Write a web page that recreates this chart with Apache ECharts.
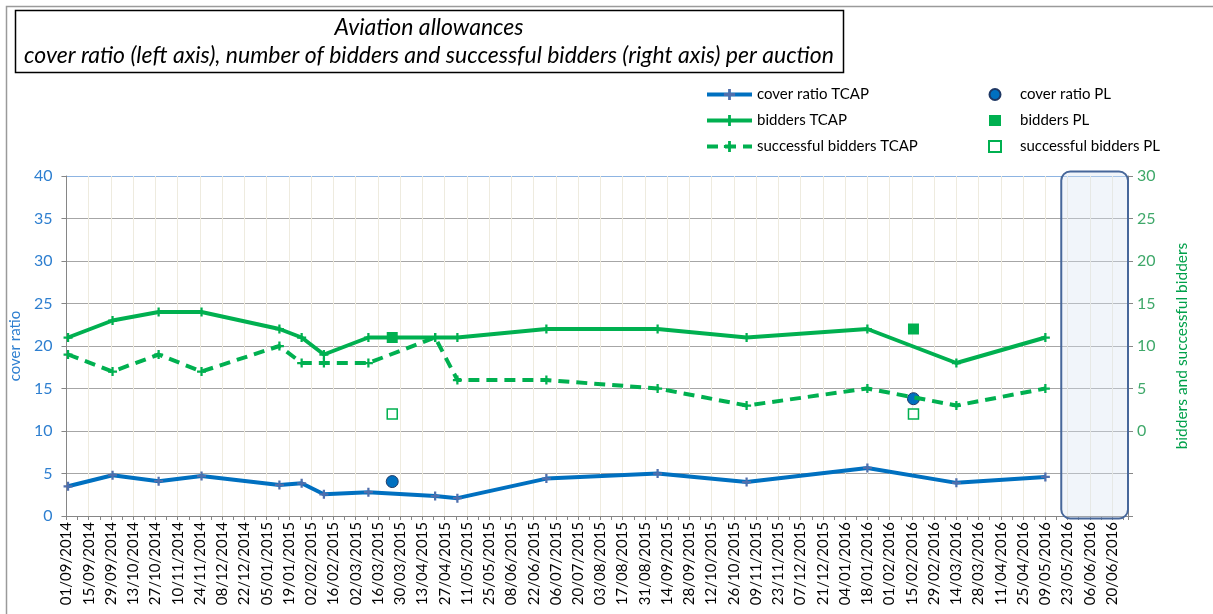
<!DOCTYPE html>
<html>
<head>
<meta charset="utf-8">
<title>Aviation allowances</title>
<script src="https://cdn.jsdelivr.net/npm/echarts@6/dist/echarts.min.js"></script>
<style>
  html, body { margin: 0; padding: 0; background: #fff; }
  #chart { width: 1213px; height: 614px; }
</style>
</head>
<body>
<div id="chart"></div>
<script>
// axis range (dates, dd/mm/yyyy)
const axisStart = '01/09/2014'
const axisEnd = '30/06/2016'
const futureStart = '19/05/2016' // shaded "future auctions" box

// TCAP auctions
const tcapDates = ['02/09/2014', '30/09/2014', '29/10/2014', '25/11/2014', '13/01/2015', '27/01/2015',
  '10/02/2015', '10/03/2015', '21/04/2015', '05/05/2015', '30/06/2015', '08/09/2015',
  '03/11/2015', '18/01/2016', '14/03/2016', '09/05/2016']
const coverTCAP = [3.5, 4.8, 4.1, 4.7, 3.65, 3.85, 2.55, 2.8, 2.35, 2.1, 4.4, 5.0, 4.0, 5.65, 3.9, 4.6]
const biddersTCAP = [11, 13, 14, 14, 12, 11, 9, 11, 11, 11, 12, 12, 11, 12, 8, 11]
const successTCAP = [9, 7, 9, 7, 10, 8, 8, 8, 11, 6, 6, 5, 3, 5, 3, 5]

// PL auctions
const plDates = ['25/03/2015', '16/02/2016']
const coverPL = [4.05, 13.8]
const biddersPL = [11, 12]
const successPL = [2, 2]

const FONT = 'Lato'
const BLUE = '#0070c0'
const GREEN = '#00b050'

function utc(s) {
  const [d, m, y] = s.split('/').map(Number)
  return Date.UTC(y, m - 1, d)
}
const base = utc(axisStart)
function toDay(s) {
  return Math.round((utc(s) - base) / 86400000)
}
function pad(n) { return n < 10 ? '0' + n : '' + n }
function dayLabel(v) {
  const t = new Date(base + v * 86400000)
  return pad(t.getUTCDate()) + '/' + pad(t.getUTCMonth() + 1) + '/' + t.getUTCFullYear()
}
function pairs(dates, vals) {
  return dates.map((d, i) => [toDay(d), vals[i]])
}

const plus = 'path://M3,0H5V3H8V5H5V8H3V5H0V3H3Z'

const chart = echarts.init(document.getElementById('chart'))

const leftSplitColors = ['#a6a6a6', '#a6a6a6', '#a6a6a6', '#a6a6a6', '#a6a6a6',
  '#a6a6a6', '#a6a6a6', '#a6a6a6', '#8db4e2']

chart.setOption({
  animation: false,
  textStyle: { fontFamily: FONT },
  grid: { left: 66, right: 85, top: 176, bottom: 98 },
  graphic: [
    {
      id: 'frame', type: 'rect', silent: true, z: -10,
      shape: { x: 6.5, y: 6.5, width: 1230, height: 640 },
      style: { fill: null, stroke: '#9a9a9a', lineWidth: 1.5 }
    },
    {
      id: 'titleBox', type: 'rect', silent: true,
      shape: { x: 15.5, y: 10.5, width: 828, height: 62 },
      style: { fill: '#fff', stroke: '#000', lineWidth: 1.5 }
    },
    {
      id: 'title1', type: 'text', silent: true, x: 429, y: 28,
      style: {
        text: 'Aviation allowances', fontSize: 23, fontStyle: 'italic',
        fontFamily: FONT, fill: '#000', align: 'center', verticalAlign: 'middle'
      }
    },
    {
      id: 'title2', type: 'text', silent: true, x: 429, y: 56,
      style: {
        text: 'cover ratio (left axis), number of bidders and successful bidders (right axis) per auction',
        fontSize: 23, fontStyle: 'italic', fontFamily: FONT, fill: '#000',
        align: 'center', verticalAlign: 'middle'
      }
    }
  ],
  legend: [
    {
      data: ['cover ratio TCAP', 'bidders TCAP', 'successful bidders TCAP'],
      orient: 'vertical', left: 700, top: 82,
      itemWidth: 45, itemHeight: 14, itemGap: 11,
      lineStyle: { width: 4 },
      textStyle: { fontSize: 15, color: '#000', fontFamily: FONT }
    },
    {
      data: ['cover ratio PL', 'bidders PL', 'successful bidders PL'],
      orient: 'vertical', left: 983, top: 82,
      itemWidth: 12, itemHeight: 11, itemGap: 11,
      textStyle: { fontSize: 15, color: '#000', fontFamily: FONT, padding: [0, 0, 0, 14] }
    }
  ],
  xAxis: {
    type: 'value',
    min: 0,
    max: toDay(axisEnd),
    interval: 14,
    axisLine: { lineStyle: { color: '#868686', width: 1 } },
    axisTick: { show: true, length: 4, lineStyle: { color: '#868686' } },
    minorTick: { show: true, splitNumber: 2, length: 4, lineStyle: { color: '#868686' } },
    splitLine: { show: true, lineStyle: { color: '#eeebdf', width: 1 } },
    axisLabel: {
      rotate: 90, fontSize: 15, color: '#000', margin: 6,
      showMaxLabel: false, formatter: dayLabel
    }
  },
  yAxis: [
    {
      type: 'value', min: 0, max: 40, interval: 5,
      name: 'cover ratio', nameLocation: 'middle', nameRotate: 90, nameGap: 34,
      nameTextStyle: { color: '#2e7fd0', fontSize: 15 },
      axisLine: { show: true, lineStyle: { color: '#868686' } },
      axisTick: { show: true, length: 5, lineStyle: { color: '#868686' } },
      axisLabel: { color: '#2e7fd0', fontSize: 16, margin: 14 },
      splitLine: { show: true, lineStyle: { color: leftSplitColors, width: 1.2 } }
    },
    {
      type: 'value', min: -10, max: 30, interval: 5, position: 'right',
      name: 'bidders and successful bidders', nameLocation: 'middle', nameRotate: 90, nameGap: 46,
      nameTextStyle: { color: '#00a04a', fontSize: 15.5 },
      axisLine: { show: true, lineStyle: { color: '#868686' } },
      axisTick: { show: true, length: 5, lineStyle: { color: '#868686' } },
      axisLabel: {
        color: '#3fa86a', fontSize: 16, margin: 9,
        formatter: v => (v < 0 ? '' : String(v))
      },
      splitLine: { show: false }
    }
  ],
  series: [
    {
      name: 'cover ratio TCAP', type: 'line', yAxisIndex: 0,
      data: pairs(tcapDates, coverTCAP),
      symbol: plus, symbolSize: 9,
      lineStyle: { color: BLUE, width: 4 },
      itemStyle: { color: '#4f6fad' }
    },
    {
      name: 'bidders TCAP', type: 'line', yAxisIndex: 1,
      data: pairs(tcapDates, biddersTCAP),
      symbol: plus, symbolSize: 9,
      lineStyle: { color: GREEN, width: 4 },
      itemStyle: { color: GREEN }
    },
    {
      name: 'successful bidders TCAP', type: 'line', yAxisIndex: 1,
      data: pairs(tcapDates, successTCAP),
      symbol: plus, symbolSize: 9,
      lineStyle: { color: GREEN, width: 4, type: [11, 7] },
      itemStyle: { color: GREEN }
    },
    {
      name: 'cover ratio PL', type: 'scatter', yAxisIndex: 0,
      data: pairs(plDates, coverPL),
      symbol: 'circle', symbolSize: 12,
      itemStyle: { color: BLUE, borderColor: '#1f3864', borderWidth: 1, opacity: 1 }
    },
    {
      name: 'bidders PL', type: 'scatter', yAxisIndex: 1,
      data: pairs(plDates, biddersPL),
      symbol: 'rect', symbolSize: 11,
      itemStyle: { color: GREEN, opacity: 1 }
    },
    {
      name: 'successful bidders PL', type: 'scatter', yAxisIndex: 1,
      data: pairs(plDates, successPL),
      symbol: 'rect', symbolSize: 10,
      itemStyle: { color: '#fff', borderColor: GREEN, borderWidth: 1.5, opacity: 1 }
    }
  ]
})

// shaded box over the not-yet-held auctions, placed from axis values
const x0 = chart.convertToPixel({ xAxisIndex: 0 }, toDay(futureStart))
const x1 = chart.convertToPixel({ xAxisIndex: 0 }, toDay(axisEnd))
const yTop = chart.convertToPixel({ yAxisIndex: 0 }, 40)
const yBot = chart.convertToPixel({ yAxisIndex: 0 }, 0)
chart.setOption({
  graphic: [{
    id: 'futureBox', type: 'rect', silent: true, z: 50,
    shape: { x: x0, y: yTop - 4.5, width: x1 - x0, height: yBot - yTop + 7, r: 9 },
    style: { fill: 'rgba(214,225,242,0.35)', stroke: '#47679a', lineWidth: 2 }
  }]
})
</script>
</body>
</html>
